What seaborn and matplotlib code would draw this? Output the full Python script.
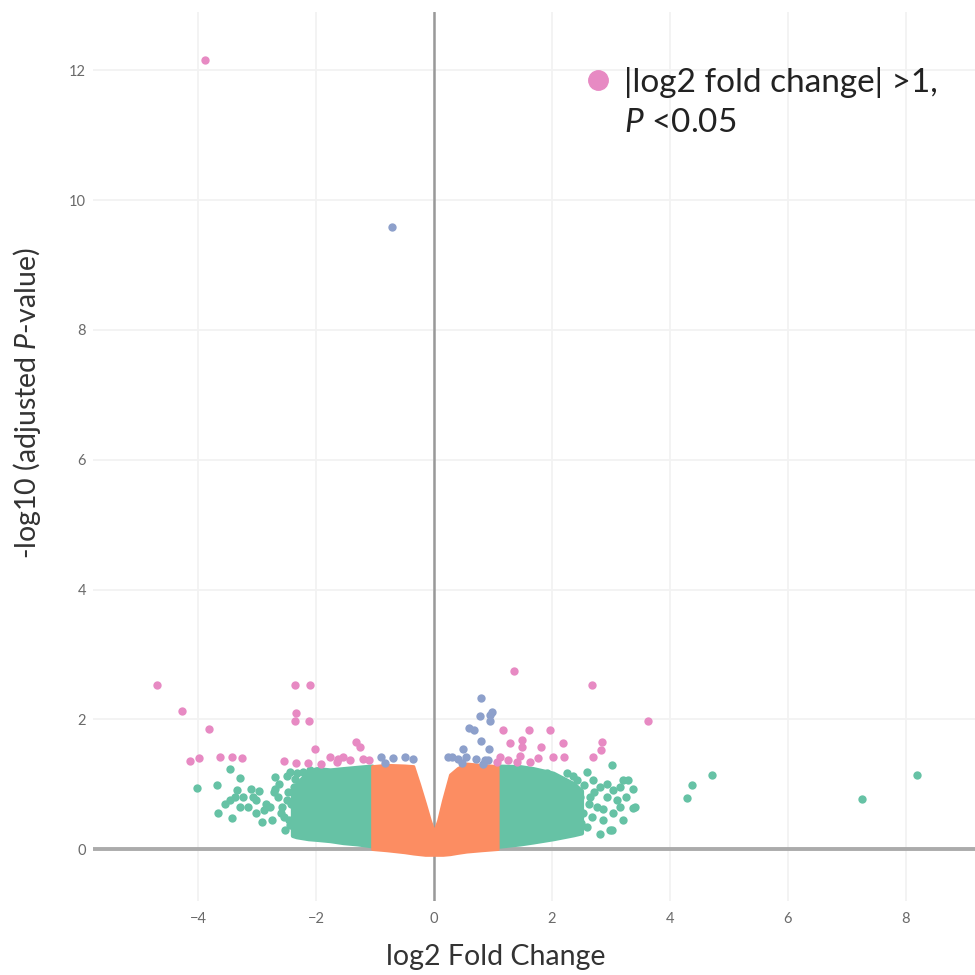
import numpy as np
import pandas as pd
import seaborn as sns
import matplotlib.pyplot as plt
from matplotlib.lines import Line2D

# colours (Set2)
GREEN = "#66c2a5"
ORANGE = "#fc8d62"
BLUE = "#8da0cb"
PINK = "#e78ac3"

# significant: |log2FC| > 1 and P < 0.05
pink_x = [-3.88, -4.69, -4.27, -3.81, -4.13, -3.98, -3.62, -3.43, -3.25,
          -2.36, -2.10, -2.34, -2.35, -2.12, -2.02, -2.55, -2.34, -2.13,
          -1.92, -1.77, -1.62, -1.54, -1.33, -1.25, -1.42, -1.20, -1.11, -1.65,
          1.36, 2.68, 3.63, 1.17, 1.61, 1.97, 1.28, 1.50, 1.50, 1.82, 2.19,
          2.84, 2.83, 2.02, 2.20, 2.70, 1.77, 1.12, 1.26, 1.06, 1.40, 1.63, 1.46]
pink_y = [12.16, 2.53, 2.13, 1.85, 1.35, 1.41, 1.42, 1.42, 1.41,
          2.53, 2.53, 2.10, 1.97, 1.97, 1.54, 1.36, 1.33, 1.33,
          1.31, 1.42, 1.39, 1.42, 1.65, 1.57, 1.37, 1.39, 1.37, 1.34,
          2.74, 2.53, 1.98, 1.84, 1.84, 1.84, 1.64, 1.68, 1.57, 1.58, 1.64,
          1.65, 1.52, 1.42, 1.42, 1.42, 1.41, 1.42, 1.37, 1.34, 1.34, 1.34, 1.43]

# P < 0.05 but |log2FC| <= 1
blue_x = [-0.71, -0.89, -0.69, -0.49, -0.35, -0.83,
          0.80, 0.78, 0.95, 0.99, 0.95, 0.60, 0.67, 0.79, 0.50, 0.94,
          0.30, 0.41, 0.55, 0.72, 0.86, 0.47, 0.83, 0.92, 0.24]
blue_y = [9.58, 1.42, 1.41, 1.42, 1.39, 1.32,
          2.33, 2.05, 2.06, 2.11, 1.97, 1.86, 1.84, 1.66, 1.55, 1.55,
          1.42, 1.39, 1.42, 1.39, 1.38, 1.32, 1.31, 1.37, 1.42]

# |log2FC| > 1, not significant (sparse points)
green_x = [-4.02, -3.67, -3.46, -3.29, -3.34, -3.37, -3.46, -3.54, -3.66, -3.43,
           -3.23, -3.06, -3.01, -3.15, -3.29, -3.01, -2.92, -2.84, -2.78, -2.69,
           -2.69, -2.64, -2.58, -2.50, -2.55, -2.44, -2.53, -2.38, -2.44, -2.33,
           -2.22, -2.10, -2.30, -2.33, -2.45, -2.42, -2.47, -2.60, -2.72, -2.88,
           -2.96, -3.10, -2.62, -2.36, -2.50, -2.75,
           2.59, 2.70, 2.81, 2.93, 3.04, 3.15, 3.21, 3.29, 3.38, 3.41,
           3.15, 3.04, 2.98, 2.87, 2.76, 2.64, 2.53, 3.26, 3.10, 2.93,
           2.47, 2.42, 2.25, 2.14, 1.91, 1.80, 2.59, 2.81, 3.01, 3.38, 3.01,
           2.55, 2.62, 2.50, 2.68, 2.72, 2.35, 2.86, 3.20, 2.45,
           4.72, 4.38, 4.28, 7.26, 8.19]
green_y = [0.94, 0.99, 1.24, 1.09, 0.91, 0.81, 0.76, 0.69, 0.55, 0.48,
           0.81, 0.81, 0.76, 0.65, 0.65, 0.55, 0.42, 0.70, 0.65, 1.11,
           0.93, 0.81, 0.65, 0.76, 0.50, 0.37, 0.29, 0.96, 1.19, 1.17,
           1.19, 1.22, 0.81, 0.55, 0.45, 0.70, 0.88, 0.55, 0.88, 0.60,
           0.90, 0.92, 1.00, 1.08, 1.12, 0.45,
           1.19, 1.06, 0.96, 1.01, 0.91, 0.96, 1.06, 1.07, 0.92, 0.65,
           0.65, 0.55, 0.29, 0.45, 0.65, 0.81, 0.55, 0.81, 0.76, 0.81,
           0.81, 1.06, 1.17, 1.06, 1.17, 1.06, 0.34, 0.24, 1.29, 0.64, 0.29,
           0.98, 0.70, 0.40, 0.50, 0.88, 1.12, 0.62, 0.45, 0.66,
           1.14, 0.99, 0.78, 0.77, 1.14]

# dense cores, drawn as envelopes
green_left_x = [-2.40, -2.33, -2.13, -1.99, -1.76, -1.54, -1.30, -1.05]
green_left_lo = [0.21, 0.19, 0.16, 0.15, 0.13, 0.10, 0.08, 0.05]
green_left_hi = [0.90, 1.00, 1.20, 1.24, 1.22, 1.24, 1.26, 1.28]

green_right_x = [1.05, 1.46, 1.68, 2.02, 2.36, 2.50]
green_right_lo = [0.04, 0.08, 0.11, 0.16, 0.22, 0.25]
green_right_hi = [1.28, 1.27, 1.24, 1.17, 1.01, 0.90]

orange_x = [-1.05, -0.80, -0.50, -0.35, -0.25, -0.15, -0.07, 0.0,
            0.07, 0.15, 0.27, 0.40, 0.55, 0.80, 1.08]
orange_lo = [0.0, -0.02, -0.05, -0.07, -0.08, -0.09, -0.09, -0.09,
             -0.09, -0.09, -0.08, -0.06, -0.04, -0.02, 0.0]
orange_hi = [1.28, 1.30, 1.29, 1.28, 1.00, 0.70, 0.45, 0.27,
             0.45, 0.75, 1.15, 1.25, 1.32, 1.30, 1.28]

x_ticks = [-4, -2, 0, 2, 4, 6, 8]
y_ticks = [0, 2, 4, 6, 8, 10, 12]

sns.set_theme(style="white")
plt.rcParams["font.family"] = ["Lato", "DejaVu Sans"]
plt.rcParams["mathtext.fontset"] = "custom"
plt.rcParams["mathtext.rm"] = "Lato"
plt.rcParams["mathtext.it"] = "Lato:italic"

fig = plt.figure(figsize=(9.75, 9.75), dpi=100)
ax = fig.add_axes([93 / 975, 74 / 975, 882 / 975, 889 / 975])

for sp in ax.spines.values():
    sp.set_visible(False)
ax.set_xlim(-5.78, 9.17)
ax.set_ylim(-0.80, 12.90)
ax.set_xticks(x_ticks)
ax.set_yticks(y_ticks)
ax.grid(True, color="#f2f2f2", linewidth=1.3, zorder=0)
ax.set_axisbelow(True)
ax.axhline(0, color="#ababab", linewidth=2.8, zorder=1)
ax.axvline(0, color="#999999", linewidth=1.8, zorder=1)

# dense regions
ax.fill_between(green_left_x, green_left_lo, green_left_hi, color=GREEN,
                edgecolor=GREEN, linewidth=3, zorder=2)
ax.fill_between(green_right_x, green_right_lo, green_right_hi, color=GREEN,
                edgecolor=GREEN, linewidth=3, zorder=2)

pts = pd.concat([
    pd.DataFrame({"x": green_x, "y": green_y, "grp": "green"}),
    pd.DataFrame({"x": blue_x, "y": blue_y, "grp": "blue"}),
    pd.DataFrame({"x": pink_x, "y": pink_y, "grp": "pink"}),
])
sns.scatterplot(data=pts[pts.grp == "green"], x="x", y="y", color=GREEN,
                s=36, linewidth=0, ax=ax, zorder=3, legend=False)
ax.fill_between(orange_x, orange_lo, orange_hi, color=ORANGE,
                edgecolor=ORANGE, linewidth=2, zorder=4)
sns.scatterplot(data=pts[pts.grp == "blue"], x="x", y="y", color=BLUE,
                s=36, linewidth=0, ax=ax, zorder=5, legend=False)
sns.scatterplot(data=pts[pts.grp == "pink"], x="x", y="y", color=PINK,
                s=36, linewidth=0, ax=ax, zorder=6, legend=False)

ax.set_xticklabels(["\u22124", "\u22122", "0", "2", "4", "6", "8"])
ax.tick_params(axis="both", length=0, labelsize=10.5, labelcolor="#6a6a6a")
ax.tick_params(axis="x", pad=8)
ax.tick_params(axis="y", pad=5)

ax.set_xlabel("log2 Fold Change", fontsize=20.5, color="#333333", labelpad=12)
ax.xaxis.set_label_coords(0.457, -0.048)
ax.set_ylabel("-log10 (adjusted $\\mathit{P}$-value)", fontsize=20.5,
              color="#333333")
ax.yaxis.set_label_coords(-0.057, 0.56)

handles = [Line2D([], [], marker="o", color=PINK, linestyle="", markersize=14),
           Line2D([], [], marker="o", color="none", linestyle="", markersize=14)]
labels = ["|log2 fold change| >1,", "$\\mathit{P}$ <0.05"]
ax.legend(handles, labels, loc="upper left", bbox_to_anchor=(566 / 975, 1 - 50 / 975),
          bbox_transform=fig.transFigure, frameon=False, fontsize=24,
          handletextpad=0.35, handlelength=0.9, labelspacing=0.3, borderpad=0,
          labelcolor="#222222")

plt.savefig("out.png", dpi=100)
